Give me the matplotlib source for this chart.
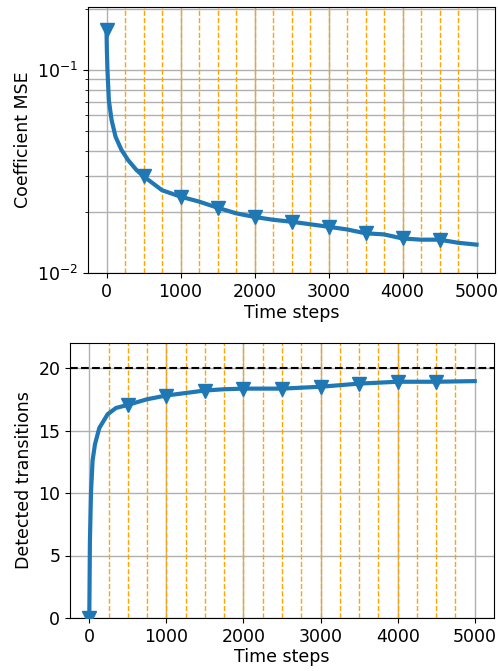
import numpy as np
import matplotlib
matplotlib.use("Agg")
import matplotlib.pyplot as plt

# ---- data ----
mse_steps = [0, 5, 13, 32, 68, 122, 203, 293, 405, 500, 750, 1000, 1250, 1500, 1750, 2000,
             2250, 2500, 2750, 3000, 3250, 3500, 3750, 4000, 4250, 4500, 4750, 5000]
mse_vals = [0.158, 0.125, 0.100, 0.071, 0.057, 0.047, 0.0404, 0.036, 0.0322, 0.0300,
            0.0256, 0.0238, 0.0225, 0.0210, 0.0197, 0.0189, 0.0183, 0.0179, 0.0174,
            0.0169, 0.0164, 0.0157, 0.0155, 0.0148, 0.0146, 0.0146, 0.0141, 0.0138]

det_steps = [0, 3, 8, 22, 43, 74, 130, 238, 346, 500, 750, 1000, 1250, 1500, 1750, 2000,
             2500, 3000, 3500, 4000, 4500, 5000]
det_vals = [0.0, 2.0, 6.0, 10.0, 12.6, 13.9, 15.2, 16.3, 16.8, 17.05, 17.5, 17.8, 18.0,
            18.2, 18.3, 18.35, 18.35, 18.5, 18.75, 18.9, 18.9, 18.95]

marker_steps = [0, 500, 1000, 1500, 2000, 2500, 3000, 3500, 4000, 4500]
transition_lines = list(range(250, 5000, 250))
true_transitions = 20

plt.rcParams['font.size'] = 12.5
fig = plt.figure(figsize=(4.98, 6.71), dpi=100)
W, H = 498, 671

def add_ax(l, t, r, b):
    return fig.add_axes([l / W, 1 - b / H, (r - l) / W, (b - t) / H])

blue = '#1f77b4'

# Top panel
ax1 = add_ax(88, 7, 495, 273)
mk1 = [mse_steps.index(s) for s in marker_steps]
ax1.semilogy(mse_steps, mse_vals, color=blue, lw=3, marker='v', markersize=10,
             markevery=mk1, zorder=3)
for x in transition_lines:
    ax1.axvline(x, color='orange', ls='--', lw=1, zorder=2)
ax1.set_xlim(-250, 5250)
ax1.set_ylim(0.01, 0.205)
ax1.grid(True, which='both', color='#b0b0b0', lw=1, zorder=0)
ax1.set_xlabel('Time steps', labelpad=2)
ax1.set_ylabel('Coefficient MSE')
ax1.set_xticks([0, 1000, 2000, 3000, 4000, 5000])

# Bottom panel
ax2 = add_ax(70, 343, 494, 618)
mk2 = [det_steps.index(s) for s in marker_steps]
ax2.plot(det_steps, det_vals, color=blue, lw=3, marker='v', markersize=10,
         markevery=mk2, zorder=3)
for x in transition_lines:
    ax2.axvline(x, color='orange', ls='--', lw=1, zorder=2)
ax2.axhline(true_transitions, color='k', ls='--', lw=1.5, zorder=2)
ax2.set_xlim(-250, 5250)
ax2.set_ylim(0, 22)
ax2.set_yticks([0, 5, 10, 15, 20])
ax2.set_xticks([0, 1000, 2000, 3000, 4000, 5000])
ax2.grid(True, color='#b0b0b0', lw=1, zorder=0)
ax2.set_xlabel('Time steps', labelpad=2)
ax2.set_ylabel('Detected transitions')

fig.savefig('out.png', dpi=100)
